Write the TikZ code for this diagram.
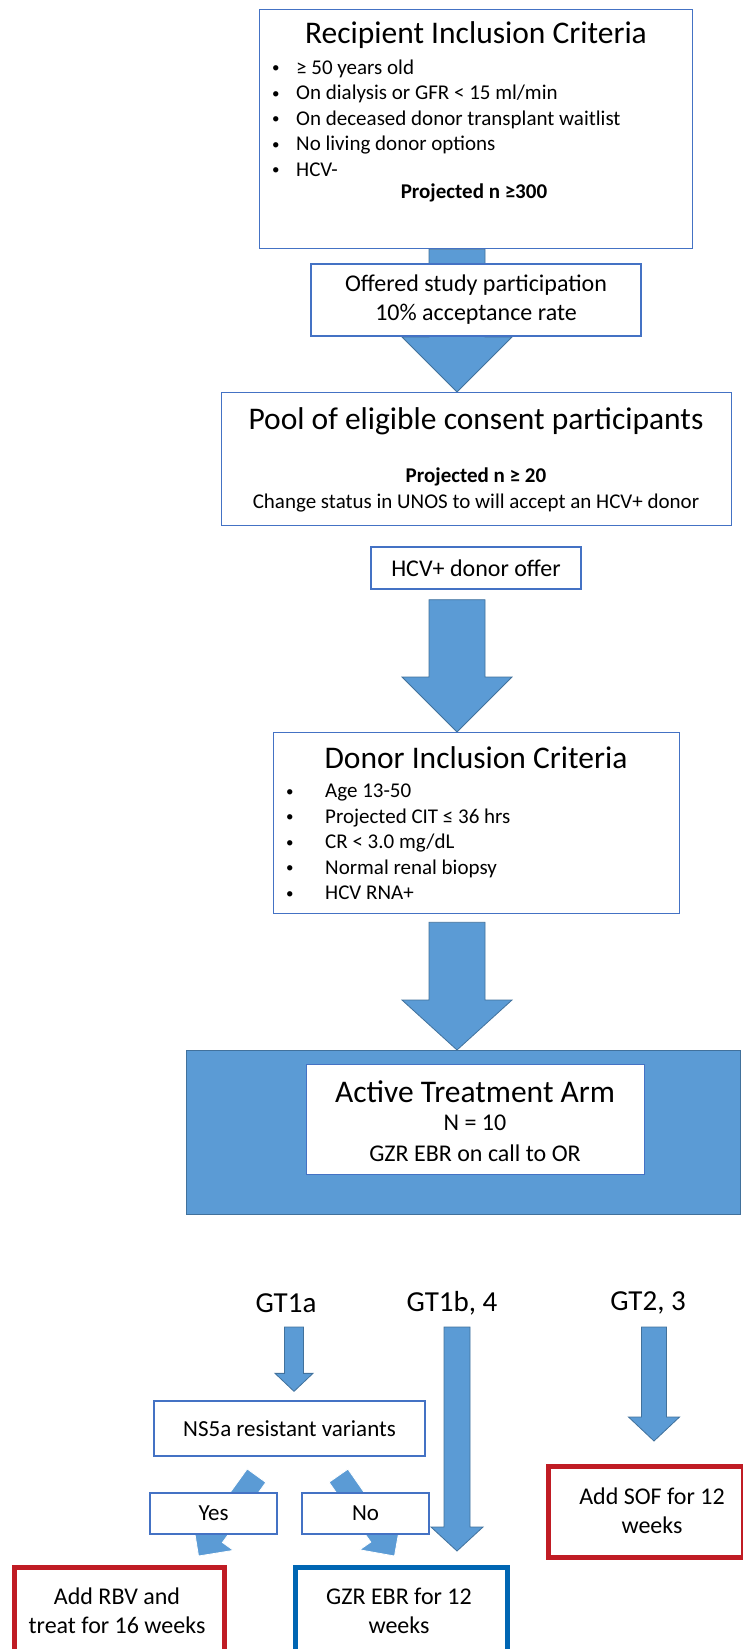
\documentclass[tikz,border=0pt]{standalone}
\usepackage{fontspec}
\setmainfont{Carlito}
\usepackage{tikz}
\usetikzlibrary{calc,backgrounds}
\definecolor{ArrowColor}{RGB}{91,155,213}
\definecolor{ArrowLine}{RGB}{65,113,156}
\definecolor{BoxLine}{RGB}{68,114,196}
\definecolor{RedLine}{RGB}{192,28,36}
\definecolor{BlueLine}{RGB}{0,102,179}

% block arrow: [style]{from}{to}{half shaft}{half head}{head length}
\newcommand{\BlockArrow}[6][BlockArrowStyle]{%
  \coordinate (ba) at #2;
  \coordinate (bb) at #3;
  \coordinate (bh) at ($(bb)!#6!(ba)$);
  \path[#1] ($(ba)!#4!90:(bb)$) -- ($(bh)!#4!-90:(ba)$) -- ($(bh)!#5!-90:(ba)$) -- (bb)
    -- ($(bh)!#5!90:(ba)$) -- ($(bh)!#4!90:(ba)$) -- ($(ba)!#4!-90:(bb)$) -- cycle;}
\newcommand{\ListDot}[1]{\makebox[#1][l]{\hspace{2pt}\raisebox{1.5pt}{\fontsize{15}{15}\selectfont •}}}

\begin{document}
\begin{tikzpicture}[x=1pt,y=-1pt,every node/.style={inner sep=0pt},
  CritBox/.style={draw=BoxLine, line width=1.3pt, fill=white},
  ResultBox/.style={line width=5pt, fill=white, anchor=north west},
  BlockArrowStyle/.style={fill=ArrowColor, draw=ArrowLine, line width=0.8pt},
  SideArrowStyle/.style={fill=ArrowColor, draw=white, line width=0.8pt},
  TitleText/.style={font=\fontsize{31.5}{37}\selectfont},
  BodyText/.style={font=\fontsize{21}{25.5}\selectfont},
  LargeText/.style={font=\fontsize{24}{29}\selectfont, align=center},
  GTText/.style={font=\fontsize{29}{35}\selectfont}]

  \useasboundingbox (0,0) rectangle (743,1649);
  \clip (0,0) rectangle (743,1649);
  \coordinate (mainaxis) at (457,0);

  % recipient side
  \node[CritBox, anchor=north west, minimum width=433, minimum height=239] (recipient) at (259,9) {};
  \node[TitleText] (recipienttitle) at (476,35) {Recipient Inclusion Criteria};
  \node[BodyText, anchor=west, align=left] (recipientlist) at (270,118) {%
    \ListDot{26pt}≥ 50 years old\\
    \ListDot{26pt}On dialysis or GFR < 15 ml/min\\
    \ListDot{26pt}On deceased donor transplant waitlist\\
    \ListDot{26pt}No living donor options\\
    \ListDot{26pt}HCV-};
  \node[font=\fontsize{21}{25.5}\selectfont\bfseries] (recipientn) at (474,193) {Projected n ≥300};

  \node[CritBox, LargeText, minimum width=330, minimum height=72] (offered) at (476,300) {Offered study participation\\10\% acceptance rate};

  \node[CritBox, anchor=north west, minimum width=510, minimum height=133] (pool) at (221,392) {};
  \node[TitleText] (pooltitle) at (476,421) {Pool of eligible consent participants};
  \node[font=\fontsize{21}{25.5}\selectfont\bfseries] (pooln) at (476,477) {Projected n ≥ 20};
  \node[BodyText] (poolstatus) at (476,503) {Change status in UNOS to will accept an HCV+ donor};

  % donor side
  \node[CritBox, LargeText, minimum width=210, minimum height=42] (donoroffer) at (476,568) {HCV+ donor offer};

  \node[CritBox, anchor=north west, minimum width=406, minimum height=181] (donor) at (273,732) {};
  \node[TitleText] (donortitle) at (476,758) {Donor Inclusion Criteria};
  \node[BodyText, anchor=west, align=left] (donorlist) at (284,842) {%
    \ListDot{41pt}Age 13-50\\
    \ListDot{41pt}Projected CIT ≤ 36 hrs\\
    \ListDot{41pt}CR < 3.0 mg/dL\\
    \ListDot{41pt}Normal renal biopsy\\
    \ListDot{41pt}HCV RNA+};

  % treatment arm
  \node[draw=ArrowLine, fill=ArrowColor, line width=1.3pt, anchor=north west, minimum width=554, minimum height=164] (activearm) at (186,1050) {};
  \node[CritBox, anchor=north west, minimum width=338, minimum height=110] (activebox) at (306,1064) {};
  \node[TitleText] (activetitle) at (475,1092) {Active Treatment Arm};
  \node[LargeText] (activen) at (475,1123) {N = 10};
  \node[LargeText] (activedrug) at (475,1153) {GZR EBR on call to OR};

  % genotypes
  \node[GTText] (gtonea) at (286,1303) {GT1a};
  \node[GTText] (gtoneb) at (452,1303) {GT1b, 4};
  \node[GTText] (gttwo) at (648,1303) {GT2, 3};

  \node[CritBox, LargeText, font=\fontsize{23}{28}\selectfont, minimum width=271, minimum height=55] (ns5a) at (289.5,1428.5) {NS5a resistant variants};
  \node[CritBox, LargeText, font=\fontsize{23}{28}\selectfont, minimum width=127, minimum height=41] (yes) at (213.5,1513.5) {Yes};
  \node[CritBox, LargeText, font=\fontsize{23}{28}\selectfont, minimum width=127, minimum height=41] (no) at (365.5,1513.5) {No};

  \node[ResultBox, draw=RedLine, minimum width=210, minimum height=100] (rbv) at (12,1565) {};
  \node[LargeText] (rbvtext) at (117,1611) {Add RBV and\\treat for 16 weeks};
  \node[ResultBox, draw=BlueLine, minimum width=212, minimum height=100] (gzr) at (293,1565) {};
  \node[LargeText] (gzrtext) at (399,1611) {GZR EBR for 12\\weeks};
  \node[ResultBox, draw=RedLine, minimum width=195, minimum height=91] (sof) at (546,1464) {};
  \node[LargeText] (softext) at (652,1511) {Add SOF for 12\\weeks};

  % arrows
  \begin{scope}[on background layer]
    \BlockArrow{(mainaxis |- recipient.south)}{(mainaxis |- pool.north)}{28pt}{55pt}{55pt}
    \BlockArrow{($(mainaxis |- donoroffer.south)+(0,10)$)}{(mainaxis |- donor.north)}{28pt}{55pt}{55pt}
    \BlockArrow{($(mainaxis |- donor.south)+(0,8)$)}{(mainaxis |- activearm.north)}{28pt}{55pt}{50pt}
    \BlockArrow{($(gtonea.center)+(8,24)$)}{($(gtonea.center |- ns5a.north)+(8,-9)$)}{9.5pt}{19pt}{18pt}
    \BlockArrow{($(gtoneb.center)+(5,24)$)}{($(gtoneb.center |- gzr.north)+(5,-14)$)}{13pt}{26pt}{24pt}
    \BlockArrow{($(gttwo.center)+(6,24)$)}{($(gttwo.center |- sof.north)+(6,-23)$)}{12.5pt}{25.5pt}{24pt}
    \BlockArrow[SideArrowStyle]{($(ns5a.south)+(-33,19)$)}{($(rbv.north)+(79,-9)$)}{11.5pt}{25pt}{25pt}
    \BlockArrow[SideArrowStyle]{($(ns5a.south)+(49,19)$)}{($(gzr.north)+(-7,-9)$)}{11.5pt}{25pt}{25pt}
  \end{scope}

\end{tikzpicture}
\end{document}
